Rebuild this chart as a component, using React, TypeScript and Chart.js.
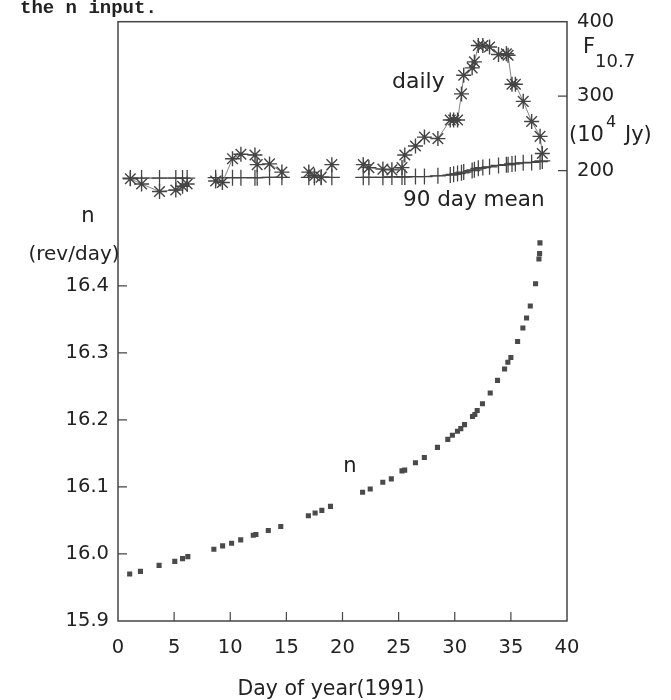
import React, { useEffect, useRef } from 'react';
import { Chart, registerables } from 'chart.js';

Chart.register(...registerables);

// ---- data ----
const nDays = [1.04, 2.0, 3.66, 5.06, 5.75, 6.22, 8.54, 9.32, 10.12, 10.93, 12.05, 12.29, 13.39, 14.5, 16.96, 17.56, 18.16, 18.93, 21.79, 22.47, 23.59, 24.35, 25.3, 25.54, 26.5, 27.29, 28.46, 29.38, 29.79, 30.24, 30.54, 30.87, 31.58, 31.79, 32.0, 32.47, 33.16, 33.81, 34.44, 34.73, 35.0, 35.6, 36.07, 36.4, 36.73, 37.2, 37.5, 37.56, 37.59];
const nValues = [15.970, 15.974, 15.983, 15.989, 15.993, 15.996, 16.007, 16.012, 16.016, 16.021, 16.028, 16.029, 16.035, 16.041, 16.057, 16.061, 16.065, 16.071, 16.092, 16.097, 16.107, 16.112, 16.124, 16.125, 16.136, 16.144, 16.159, 16.171, 16.177, 16.183, 16.187, 16.193, 16.205, 16.208, 16.214, 16.224, 16.240, 16.259, 16.276, 16.286, 16.293, 16.317, 16.337, 16.352, 16.370, 16.403, 16.440, 16.448, 16.464];

const fDays = [1.1, 2.1, 3.7, 5.15, 5.75, 6.16, 8.7, 9.3, 10.2, 10.95, 12.2, 12.4, 13.5, 14.6, 17.0, 17.5, 18.1, 19.05, 21.85, 22.35, 23.6, 24.4, 25.3, 25.55, 26.5, 27.3, 28.5, 29.6, 29.9, 30.25, 30.6, 30.8, 31.55, 31.75, 32.1, 32.5, 33.1, 33.9, 34.6, 34.75, 35.1, 35.4, 36.1, 36.85, 37.6, 37.8];
const fDaily = [189, 182, 172, 174, 179, 182, 186, 184, 216, 222, 221, 208, 209, 198, 198, 193, 191, 208, 208, 204, 202, 201, 204, 221, 233, 245, 243, 268, 268, 268, 303, 328, 338, 346, 368, 368, 366, 356, 357, 355, 316, 316, 293, 266, 246, 223];
const fMean = [190, 190, 190, 190, 190, 190, 190.5, 190.5, 190.5, 190.5, 190.5, 190.5, 191, 191, 191, 191, 191, 191, 191, 191, 191, 191.5, 191.5, 191.5, 192, 192, 193, 194, 195, 196, 197, 198, 200, 201, 203, 204, 205, 207, 208, 208, 209, 209.5, 210.5, 211, 212, 213];

const xTicks = [0, 5, 10, 15, 20, 25, 30, 35, 40];
const nTicks = [15.9, 16.0, 16.1, 16.2, 16.3, 16.4];
const fTicks = [200, 300, 400];

const INK = '#444444';
const TEXT = '#222222';
const FONT = 'DejaVu Sans';

const framePlugin = {
  id: 'frame',
  beforeDatasetsDraw(chart: any) {
    const { ctx, chartArea: a, scales } = chart;
    ctx.save();
    ctx.strokeStyle = INK;
    ctx.lineWidth = 1.5;
    ctx.strokeRect(a.left, a.top, a.right - a.left, a.bottom - a.top);
    ctx.lineWidth = 1.2;
    const L = 9;
    ctx.beginPath();
    for (const v of xTicks) {
      if (v === xTicks[0] || v === xTicks[xTicks.length - 1]) continue;
      const px = scales.x.getPixelForValue(v);
      ctx.moveTo(px, a.bottom);
      ctx.lineTo(px, a.bottom - L);
    }
    for (const v of nTicks) {
      if (v === nTicks[0]) continue;
      const py = scales.y.getPixelForValue(v);
      ctx.moveTo(a.left, py);
      ctx.lineTo(a.left + L, py);
    }
    for (const v of fTicks) {
      if (v === fTicks[fTicks.length - 1]) continue;
      const py = scales.y2.getPixelForValue(v);
      ctx.moveTo(a.right, py);
      ctx.lineTo(a.right - L, py);
    }
    ctx.stroke();
    ctx.restore();
  },
  afterDraw(chart: any) {
    const { ctx } = chart;
    ctx.save();
    ctx.fillStyle = TEXT;
    ctx.textBaseline = 'middle';
    const put = (t: string, x: number, y: number, size: number, align: CanvasTextAlign = 'left', family = FONT, weight = 'normal') => {
      ctx.font = `${weight} ${size}px "${family}"`;
      ctx.textAlign = align;
      ctx.fillText(t, x, y);
    };
    // caption fragment at the very top
    ctx.textBaseline = 'alphabetic';
    put('the n input.', 20, 12.5, 19, 'left', 'Liberation Mono', 'bold');
    ctx.textBaseline = 'middle';
    // left axis title
    put('n', 88, 217, 21, 'center');
    put('(rev/day)', 74, 255, 20, 'center');
    // in-plot labels
    put('daily', 392, 82, 22);
    put('90 day mean', 403, 200, 21.5);
    put('n', 350, 467, 21, 'center');
    // right axis title
    put('F', 583, 48, 21);
    put('10.7', 595, 62, 18);
    put('(10', 569, 136, 21);
    put('4', 606, 123, 16);
    put('Jy)', 625, 136, 21);
    // x axis title
    put('Day of year(1991)', 331, 690, 20.5, 'center');
    ctx.restore();
  },
};

export default function App() {
  const ref = useRef<HTMLCanvasElement | null>(null);

  useEffect(() => {
    if (!ref.current) return;
    const nData = nDays.map((d, i) => ({ x: d, y: nValues[i] }));
    const dailyData = fDays.map((d, i) => ({ x: d, y: fDaily[i] }));
    const meanData = fDays.map((d, i) => ({ x: d, y: fMean[i] }));
    const gap = (c: any) => (c.p1.parsed.x - c.p0.parsed.x > 2 ? 'rgba(0,0,0,0)' : undefined);

    const chart = new Chart(ref.current, {
      type: 'scatter',
      data: {
        datasets: [
          {
            label: 'n',
            data: nData,
            yAxisID: 'y',
            pointStyle: 'rect',
            pointRadius: 3.6,
            pointBorderWidth: 0,
            backgroundColor: '#4a4a4a',
            borderColor: '#4a4a4a',
            showLine: false,
          },
          {
            label: 'daily',
            data: dailyData,
            yAxisID: 'y2',
            pointStyle: 'star',
            pointRadius: 7.5,
            pointBorderWidth: 1.4,
            pointBorderColor: INK,
            pointBackgroundColor: INK,
            borderColor: '#777777',
            borderWidth: 0.9,
            showLine: true,
            segment: { borderColor: gap },
          },
          {
            label: '90 day mean',
            data: meanData,
            yAxisID: 'y2',
            pointStyle: 'cross',
            pointRadius: 8,
            pointBorderWidth: 1.3,
            pointBorderColor: INK,
            pointBackgroundColor: INK,
            borderColor: '#555555',
            borderWidth: 1.1,
            showLine: true,
            segment: { borderColor: gap },
          },
        ],
      },
      options: {
        animation: false,
        responsive: false,
        events: [],
        layout: { padding: { top: 17.5, left: 0, right: 0, bottom: 0 } },
        plugins: { legend: { display: false }, tooltip: { enabled: false } },
        scales: {
          x: {
            type: 'linear',
            position: 'bottom',
            min: 0,
            max: 40,
            afterBuildTicks: (s: any) => { s.ticks = xTicks.map((v) => ({ value: v })); },
            afterFit: (s: any) => { s.height = 79; },
            ticks: { color: TEXT, font: { family: FONT, size: 19.5 }, padding: 15, maxRotation: 0, autoSkip: false },
            grid: { display: false, drawTicks: false },
            border: { display: false },
          },
          y: {
            type: 'linear',
            position: 'left',
            min: 15.9,
            max: 16.794,
            afterBuildTicks: (s: any) => { s.ticks = nTicks.map((v) => ({ value: v })); },
            afterFit: (s: any) => { s.width = 118; },
            ticks: { color: TEXT, font: { family: FONT, size: 19.5 }, padding: 9, callback: (v: any) => Number(v).toFixed(1) },
            grid: { display: false, drawTicks: false },
            border: { display: false },
          },
          y2: {
            type: 'linear',
            position: 'right',
            min: -405,
            max: 400,
            afterBuildTicks: (s: any) => { s.ticks = fTicks.map((v) => ({ value: v })); },
            afterFit: (s: any) => { s.width = 104; },
            ticks: { color: TEXT, font: { family: FONT, size: 19.5 }, padding: 10 },
            grid: { display: false, drawTicks: false },
            border: { display: false },
          },
        },
      },
      plugins: [framePlugin],
    } as any);
    return () => chart.destroy();
  }, []);

  return (
    <div style={{ position: 'absolute', left: 0, top: 0, width: 671, height: 700, background: '#fff' }}>
      <canvas ref={ref} width={671} height={700} style={{ display: 'block', width: 671, height: 700 }} />
    </div>
  );
}
